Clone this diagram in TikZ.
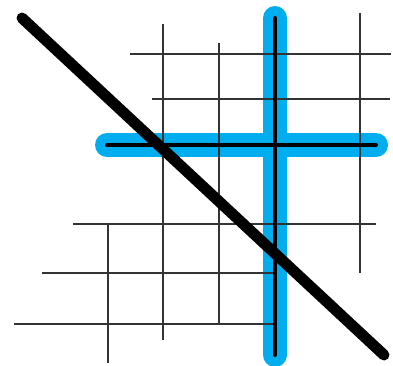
\documentclass[tikz,border=0pt]{standalone}
\usepackage{tikz}
\usepackage{xcolor}
\definecolor{wireblue}{RGB}{0,174,239}

\begin{document}
\begin{tikzpicture}[x=1pt, y=-1pt,
    thinwire/.style={line width=1.5pt, black!80},
    glowwire/.style={line width=24pt, wireblue, line cap=round},
    corewire/.style={line width=4pt, black, line cap=round}]
    \useasboundingbox (0,0) rectangle (393,366);

    % Highlighted wires (glow)
    \draw[glowwire] (107,145) -- (376,145);
    \draw[glowwire] (275,18) -- (275,355);

    % Horizontal grid lines
    \foreach \y/\xa/\xb in {54/130/391, 99/152/390, 224/73/376, 273/42/274, 324/14/275} {
        \draw[thinwire] (\xa,\y) -- (\xb,\y);
    }

    % Vertical grid lines
    \foreach \x/\ya/\yb in {108/224/363, 163/24/340, 219/43/323, 360/13/273} {
        \draw[thinwire] (\x,\ya) -- (\x,\yb);
    }

    % Highlighted wires (core)
    \draw[corewire] (107,145) -- (376,145);
    \draw[corewire] (275,18) -- (275,355);

    % Strike-through
    \draw[line width=11pt, black, line cap=round] (22,18) -- (384,355);
\end{tikzpicture}
\end{document}
